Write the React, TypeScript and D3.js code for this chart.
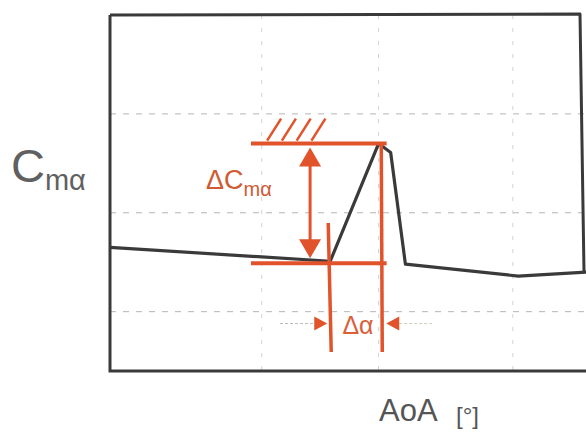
import React from "react";
import * as d3 from "d3";

// curve: pitching moment slope vs angle of attack
const aoa = [0, 1.64, 2.0, 2.09, 2.2, 3.04, 3.55];
const cma = [-0.35, -0.49, 0.7, 0.61, -0.52, -0.64, -0.6];

// grid ticks
const xGrid = [1.13, 2, 3];
const yGrid = [-1, 0, 1];

// annotation values
const alphaStart = 1.64;
const alphaPeak = 2.02;
const cmaHigh = 0.7;
const cmaLow = -0.51;
const bracketFrom = 1.05;
const bracketTo = 2.06;
const arrowX = 1.49;
const dAlphaY = -1.12;
const hatchAt = [1.17, 1.28, 1.39, 1.5];

const W = 586;
const H = 435;
const margin = { top: 15, right: 4, bottom: 64, left: 110 };
const RED = "#e0532b";
const INK = "#3a3a3a";

export default function App() {
  const x = d3.scaleLinear().domain([0, 3.5]).range([margin.left, 580]);
  const y = d3.scaleLinear().domain([-1.6, 2.0]).range([H - margin.bottom, margin.top]);

  const line = d3
    .line<number>()
    .x((_, i) => x(aoa[i]))
    .y((d) => y(d));

  const xL = x(0);
  const xR = x(3.5);
  const yT = y(2.0);
  const yB = y(-1.6);

  const ay = y(dAlphaY);
  const axTop = y(cmaHigh) + 4;
  const axBot = y(cmaLow) - 5;

  return (
    <svg
      width={W}
      height={H}
      style={{ position: "absolute", left: 0, top: 0, background: "#fff" }}
      fontFamily="'Liberation Sans', Arial, sans-serif"
    >
      {/* grid */}
      {yGrid.map((v) => (
        <line key={"h" + v} x1={xL} x2={W} y1={y(v)} y2={y(v)} stroke="#b5b5b5" strokeWidth={1} strokeDasharray="6,7" />
      ))}
      {xGrid.map((v) => (
        <line key={"v" + v} x1={x(v)} x2={x(v)} y1={yT} y2={yB} stroke="#d2d2d2" strokeWidth={1} strokeDasharray="4,9" />
      ))}

      {/* faint guides for delta alpha arrows */}
      <line x1={280} x2={x(alphaStart) - 14} y1={ay} y2={ay} stroke="#bbb" strokeWidth={1} strokeDasharray="3,2" />
      <line x1={x(alphaPeak) + 18} x2={432} y1={ay} y2={ay} stroke="#c9d3b8" strokeWidth={1} strokeDasharray="3,2" />

      {/* frame */}
      <path
        d={`M${xL},${yT} L${xL},${yB} L${W},${yB}`}
        fill="none"
        stroke={INK}
        strokeWidth={3}
      />
      <path
        d={`M${xL},${yT} L${xR},${yT - 1} L${xR + 4},${y(-0.6)}`}
        fill="none"
        stroke={INK}
        strokeWidth={3}
        strokeLinejoin="round"
      />

      {/* curve */}
      <path d={line(cma) || ""} fill="none" stroke={INK} strokeWidth={3.2} strokeLinejoin="round" />

      {/* red annotations */}
      <g stroke={RED} fill={RED}>
        <line x1={x(bracketFrom)} x2={x(bracketTo)} y1={y(cmaHigh)} y2={y(cmaHigh)} strokeWidth={4} />
        <line x1={x(bracketFrom)} x2={x(bracketTo)} y1={y(cmaLow)} y2={y(cmaLow)} strokeWidth={4} />
        {hatchAt.map((h) => (
          <line key={h} x1={x(h)} x2={x(h) + 14} y1={y(cmaHigh) - 3} y2={y(cmaHigh) - 25} strokeWidth={2.5} />
        ))}
        <line x1={x(alphaStart) - 2} x2={x(alphaStart) + 1} y1={223} y2={352} strokeWidth={3.5} />
        <line x1={x(alphaPeak)} x2={x(alphaPeak) + 1} y1={y(cmaHigh)} y2={352} strokeWidth={3.5} />
        <line x1={x(arrowX)} x2={x(arrowX)} y1={axTop + 10} y2={axBot - 10} strokeWidth={3} />
        <path
          d={`M${x(arrowX)},${axTop} L${x(arrowX) - 11},${axTop + 19} L${x(arrowX) + 11},${axTop + 19} Z`}
          stroke="none"
        />
        <path
          d={`M${x(arrowX)},${axBot} L${x(arrowX) - 11},${axBot - 19} L${x(arrowX) + 11},${axBot - 19} Z`}
          stroke="none"
        />
        <path
          d={`M${x(alphaStart) - 3},${ay} L${x(alphaStart) - 16},${ay - 7} L${x(alphaStart) - 16},${ay + 7} Z`}
          stroke="none"
        />
        <path
          d={`M${x(alphaPeak) + 5},${ay} L${x(alphaPeak) + 18},${ay - 7} L${x(alphaPeak) + 18},${ay + 7} Z`}
          stroke="none"
        />
      </g>

      <text x={206} y={189} fill="#cf5a34" fontSize={27}>
        ΔC<tspan fontSize={20} dy={7}>mα</tspan>
      </text>
      <text x={358} y={334} fill="#d9603a" fontSize={25} textAnchor="middle">
        Δα
      </text>

      {/* axis labels */}
      <text x={11} y={182} fill="#606060" fontSize={47}>
        C<tspan fontSize={29} dy={8}>mα</tspan>
      </text>
      <text x={379} y={421} fill="#555" fontSize={31}>
        AoA
      </text>
      <text x={456} y={424} fill="#555" fontSize={24}>
        [°]
      </text>
    </svg>
  );
}
